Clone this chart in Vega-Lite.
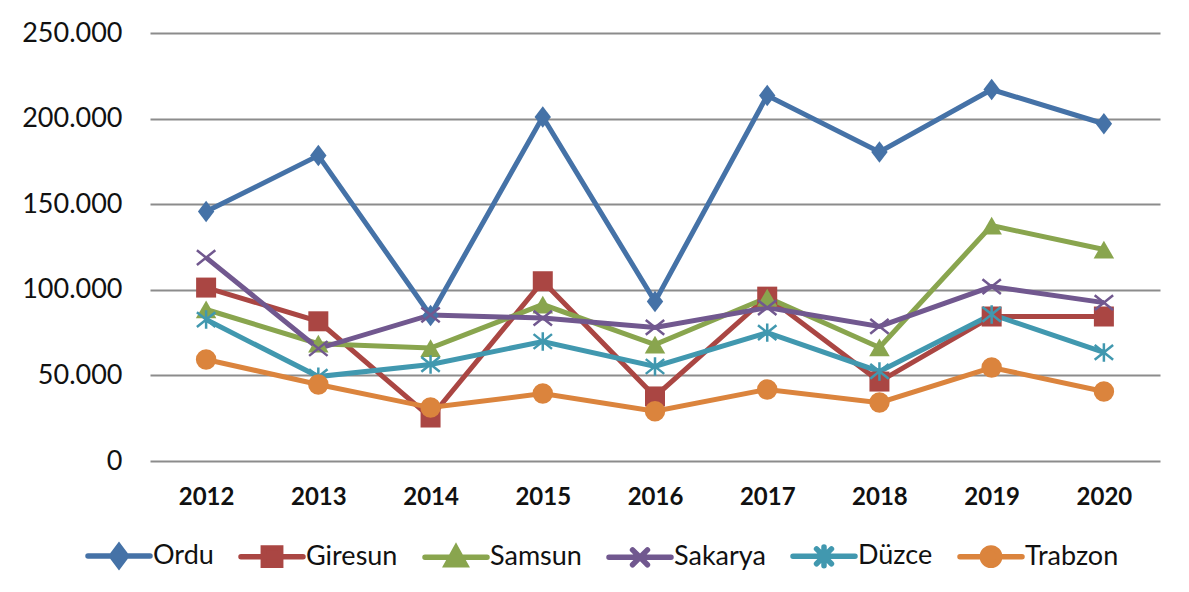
{
  "$schema": "https://vega.github.io/schema/vega-lite/v6.json",
  "width": 1010,
  "height": 428,
  "autosize": "none",
  "padding": {"left": 150, "top": 33, "right": 29, "bottom": 131},
  "background": "white",
  "config": {"font": "Lato", "view": {"stroke": null}},
  "data": {"values": [
    {"yil": "2012", "il": "Ordu", "deger": 145700},
    {"yil": "2013", "il": "Ordu", "deger": 178400},
    {"yil": "2014", "il": "Ordu", "deger": 85000},
    {"yil": "2015", "il": "Ordu", "deger": 201000},
    {"yil": "2016", "il": "Ordu", "deger": 93100},
    {"yil": "2017", "il": "Ordu", "deger": 213500},
    {"yil": "2018", "il": "Ordu", "deger": 180500},
    {"yil": "2019", "il": "Ordu", "deger": 217000},
    {"yil": "2020", "il": "Ordu", "deger": 197000},
    {"yil": "2012", "il": "Giresun", "deger": 101300},
    {"yil": "2013", "il": "Giresun", "deger": 81600},
    {"yil": "2014", "il": "Giresun", "deger": 25400},
    {"yil": "2015", "il": "Giresun", "deger": 105000},
    {"yil": "2016", "il": "Giresun", "deger": 37700},
    {"yil": "2017", "il": "Giresun", "deger": 96000},
    {"yil": "2018", "il": "Giresun", "deger": 46400},
    {"yil": "2019", "il": "Giresun", "deger": 84400},
    {"yil": "2020", "il": "Giresun", "deger": 84400},
    {"yil": "2012", "il": "Samsun", "deger": 88500},
    {"yil": "2013", "il": "Samsun", "deger": 68500},
    {"yil": "2014", "il": "Samsun", "deger": 66000},
    {"yil": "2015", "il": "Samsun", "deger": 91400},
    {"yil": "2016", "il": "Samsun", "deger": 68000},
    {"yil": "2017", "il": "Samsun", "deger": 95500},
    {"yil": "2018", "il": "Samsun", "deger": 66300},
    {"yil": "2019", "il": "Samsun", "deger": 137500},
    {"yil": "2020", "il": "Samsun", "deger": 123500},
    {"yil": "2012", "il": "Sakarya", "deger": 118800},
    {"yil": "2013", "il": "Sakarya", "deger": 65700},
    {"yil": "2014", "il": "Sakarya", "deger": 85300},
    {"yil": "2015", "il": "Sakarya", "deger": 83500},
    {"yil": "2016", "il": "Sakarya", "deger": 78000},
    {"yil": "2017", "il": "Sakarya", "deger": 89600},
    {"yil": "2018", "il": "Sakarya", "deger": 78600},
    {"yil": "2019", "il": "Sakarya", "deger": 101900},
    {"yil": "2020", "il": "Sakarya", "deger": 92500},
    {"yil": "2012", "il": "Düzce", "deger": 82600},
    {"yil": "2013", "il": "Düzce", "deger": 49300},
    {"yil": "2014", "il": "Düzce", "deger": 56400},
    {"yil": "2015", "il": "Düzce", "deger": 69800},
    {"yil": "2016", "il": "Düzce", "deger": 55200},
    {"yil": "2017", "il": "Düzce", "deger": 75000},
    {"yil": "2018", "il": "Düzce", "deger": 52300},
    {"yil": "2019", "il": "Düzce", "deger": 85600},
    {"yil": "2020", "il": "Düzce", "deger": 63400},
    {"yil": "2012", "il": "Trabzon", "deger": 59300},
    {"yil": "2013", "il": "Trabzon", "deger": 44700},
    {"yil": "2014", "il": "Trabzon", "deger": 31200},
    {"yil": "2015", "il": "Trabzon", "deger": 39400},
    {"yil": "2016", "il": "Trabzon", "deger": 29100},
    {"yil": "2017", "il": "Trabzon", "deger": 41800},
    {"yil": "2018", "il": "Trabzon", "deger": 34100},
    {"yil": "2019", "il": "Trabzon", "deger": 54600},
    {"yil": "2020", "il": "Trabzon", "deger": 40600}
  ]},
  "encoding": {
    "x": {
      "field": "yil", "type": "ordinal",
      "scale": {"type": "point", "padding": 0.5},
      "axis": {"title": null, "domain": false, "ticks": false, "labelAngle": 0,
               "labelFontSize": 24, "labelFontWeight": "bold", "labelColor": "#111",
               "labelPadding": 24}
    },
    "y": {
      "field": "deger", "type": "quantitative",
      "scale": {"domain": [0, 250000], "nice": false},
      "axis": {"title": null, "domain": false, "ticks": false,
               "values": [0, 50000, 100000, 150000, 200000, 250000],
               "format": ",d",
               "labelExpr": "replace(datum.label, ',', '.')",
               "labelFontSize": 27, "labelColor": "#111", "labelPadding": 28,
               "gridColor": "#8c8c8c", "gridWidth": 2}
    },
    "color": {
      "field": "il", "type": "nominal",
      "scale": {"domain": ["Ordu", "Giresun", "Samsun", "Sakarya", "Düzce", "Trabzon"],
                "range": ["#4572A7", "#AA4643", "#89A54E", "#71588F", "#4198AF", "#DB843D"]},
      "legend": {
        "title": null, "orient": "none", "direction": "horizontal",
        "legendX": -65, "legendY": 489,
        "labelFontSize": 27, "labelColor": "#111", "labelOffset": 0,
        "columnPadding": 16, "symbolSize": 3844, "symbolStrokeWidth": 5.5,
        "encode": {"symbols": {"update": {
          "shape": {"signal": "datum.value === 'Ordu' ? 'M-1,0L1,0M0,-0.32L0.24,0L0,0.32L-0.24,0Z' : datum.value === 'Giresun' ? 'M-1,0L1,0M-0.28,-0.28L0.28,-0.28L0.28,0.28L-0.28,0.28Z' : datum.value === 'Samsun' ? 'M-1,0L1,0M0,-0.3L0.3,0.24L-0.3,0.24Z' : datum.value === 'Sakarya' ? 'M-1,0L1,0M-0.24,-0.24L0.24,0.24M-0.24,0.24L0.24,-0.24' : datum.value === 'Düzce' ? 'M-1,0L1,0M-0.24,-0.24L0.24,0.24M-0.24,0.24L0.24,-0.24M0,-0.3L0,0.3' : 'M-1,0L1,0M0.28,0A0.28,0.28 0 1,1 -0.28,0A0.28,0.28 0 1,1 0.28,0Z'"},
          "fill": {"scale": "color", "field": "value"},
          "stroke": {"scale": "color", "field": "value"},
          "strokeWidth": {"value": 5.5},
          "strokeCap": {"value": "round"},
          "size": {"value": 3844},
          "opacity": {"value": 1}
        }}}
      }
    }
  },
  "layer": [
    {"mark": {"type": "line", "strokeWidth": 5}, "encoding": {}},
    {"transform": [{"filter": "datum.il === 'Ordu'"}],
     "mark": {"type": "point", "filled": true, "opacity": 1, "size": 420, "shape": "M0,-1.05L0.8,0L0,1.05L-0.8,0Z"}},
    {"transform": [{"filter": "datum.il === 'Giresun'"}],
     "mark": {"type": "point", "filled": true, "opacity": 1, "size": 400, "shape": "square"}},
    {"transform": [{"filter": "datum.il === 'Samsun'"}],
     "mark": {"type": "point", "filled": true, "opacity": 1, "size": 420, "shape": "triangle-up"}},
    {"transform": [{"filter": "datum.il === 'Sakarya'"}],
     "mark": {"type": "point", "filled": false, "opacity": 1, "size": 340, "strokeWidth": 2.5, "shape": "M-1,-0.8L1,0.8M-1,0.8L1,-0.8"}},
    {"transform": [{"filter": "datum.il === 'Düzce'"}],
     "mark": {"type": "point", "filled": false, "opacity": 1, "size": 340, "strokeWidth": 2.5, "shape": "M-1,-0.8L1,0.8M-1,0.8L1,-0.8M0,-1L0,1"}},
    {"transform": [{"filter": "datum.il === 'Trabzon'"}],
     "mark": {"type": "point", "filled": true, "opacity": 1, "size": 420, "shape": "circle"}}
  ]
}
